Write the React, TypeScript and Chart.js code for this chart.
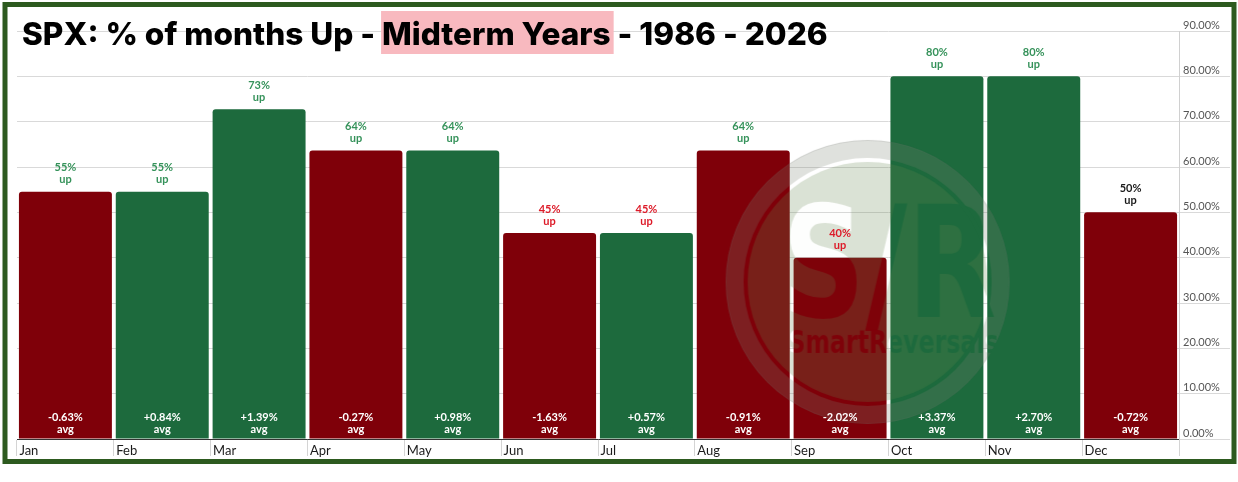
import { useEffect, useRef } from "react";
import { Chart, registerables } from "chart.js";
import type { Plugin } from "chart.js";

Chart.register(...registerables);

// data
const months = ["Jan", "Feb", "Mar", "Apr", "May", "Jun", "Jul", "Aug", "Sep", "Oct", "Nov", "Dec"];
const pctUp = [54.55, 54.55, 72.73, 63.64, 63.64, 45.45, 45.45, 63.64, 40, 80, 80, 50];
const avgReturn = [-0.63, 0.84, 1.39, -0.27, 0.98, -1.63, 0.57, -0.91, -2.02, 3.37, 2.7, -0.72];
const yMin = 0;
const yMax = 90;
const yStep = 10;
const titleParts = ["SPX: % of months Up - ", "Midterm Years", " - 1986 - 2026"];

const RED = "#7f0009";
const GREEN = "#1d6a3d";
const LABEL_FONT = 'Lato, "Open Sans", sans-serif';

function fitText(
  o: CanvasRenderingContext2D,
  text: string,
  left: number,
  top: number,
  width: number,
  height: number
) {
  const m = o.measureText(text);
  const w = m.actualBoundingBoxLeft + m.actualBoundingBoxRight;
  const asc = m.actualBoundingBoxAscent;
  o.save();
  o.translate(left, top);
  o.scale(width / w, height / asc);
  o.fillText(text, m.actualBoundingBoxLeft, asc);
  o.restore();
}

// faint "S/R SmartReversals" stamp over the bars
function drawWatermark(chart: Chart) {
  const { ctx, chartArea } = chart;
  const cx = chartArea.left + (chartArea.right - chartArea.left) * 0.732;
  const cy = chartArea.top + (chartArea.bottom - chartArea.top) * 0.615;
  const r = 142;
  const dpr = chart.currentDevicePixelRatio || 1;
  const size = Math.ceil((r * 2 + 4) * dpr);
  const off = document.createElement("canvas");
  off.width = size;
  off.height = size;
  const o = off.getContext("2d");
  if (!o) return;
  o.scale(dpr, dpr);
  o.translate(r + 2, r + 2);

  // outer ring band
  o.fillStyle = "rgba(120,128,112,0.24)";
  o.beginPath();
  o.arc(0, 0, r, 0, Math.PI * 2);
  o.fill();

  o.globalCompositeOperation = "destination-out";
  o.fillStyle = "#000";
  o.beginPath();
  o.arc(0, 0, r - 18, 0, Math.PI * 2);
  o.fill();

  // inner disc
  o.globalCompositeOperation = "source-over";
  o.fillStyle = "rgba(100,132,80,0.24)";
  o.beginPath();
  o.arc(0, 0, r - 22, 0, Math.PI * 2);
  o.fill();

  o.strokeStyle = "rgba(110,110,110,0.15)";
  o.lineWidth = 1;
  o.beginPath();
  o.arc(0, 0, r - 0.5, 0, Math.PI * 2);
  o.stroke();

  o.globalCompositeOperation = "destination-out";
  o.fillStyle = "rgba(0,0,0,0.95)";
  o.font = 'bold 100px "DejaVu Sans Condensed", "DejaVu Sans", sans-serif';
  fitText(o, "S/R", -78, -82, 205, 117);
  o.font = 'bold 40px "DejaVu Sans Condensed", "DejaVu Sans", sans-serif';
  fitText(o, "SmartReversals", -78, 46, 208, 25);

  ctx.drawImage(off, cx - r - 2, cy - r - 2, size / dpr, size / dpr);
}

const overlayPlugin: Plugin<"bar"> = {
  id: "overlay",
  beforeDraw(chart) {
    const { ctx, width, height } = chart;
    ctx.save();
    ctx.fillStyle = "#ffffff";
    ctx.fillRect(0, 0, width, height);
    ctx.restore();
  },
  afterDatasetsDraw(chart) {
    const ctx = chart.ctx;
    ctx.save();
    drawWatermark(chart);
    const meta = chart.getDatasetMeta(0);
    ctx.textAlign = "center";
    ctx.textBaseline = "middle";
    ctx.font = `bold 11px ${LABEL_FONT}`;
    meta.data.forEach((bar, i) => {
      const { x, y, base } = bar.getProps(["x", "y", "base"], true) as {
        x: number;
        y: number;
        base: number;
      };
      const rounded = Math.round(pctUp[i]);
      ctx.fillStyle = rounded > 50 ? "#35925a" : rounded < 50 ? "#dd1a28" : "#1a1a1a";
      ctx.fillText(`${rounded}%`, x, y - 24);
      ctx.fillText("up", x, y - 12);

      const a = avgReturn[i];
      ctx.fillStyle = "#ffffff";
      ctx.fillText(`${a > 0 ? "+" : ""}${a.toFixed(2)}%`, x, base - 21.5);
      ctx.fillText("avg", x, base - 9.5);
    });
    ctx.restore();
  },
  afterDraw(chart) {
    const ctx = chart.ctx;
    ctx.save();
    const fontFor = (s: number) => `800 ${s}px Inter, "Liberation Sans", sans-serif`;
    const full = titleParts.join("");
    ctx.font = fontFor(32);
    const size = (32 * 806) / ctx.measureText(full).width;
    ctx.font = fontFor(size);
    const x0 = 22;
    const w0 = ctx.measureText(titleParts[0]).width;
    const w1 = ctx.measureText(titleParts[1]).width;
    ctx.fillStyle = "#f8b9bf";
    ctx.fillRect(x0 + w0 - 1, 11, w1 + 4, 43);
    ctx.fillStyle = "#000000";
    ctx.textBaseline = "alphabetic";
    ctx.textAlign = "left";
    ctx.fillText(full, x0, 45);

    ctx.strokeStyle = "#2d5a1f";
    ctx.lineWidth = 5;
    ctx.strokeRect(5, 4.5, 1229, 457);
    ctx.restore();
  },
};

export default function App() {
  const canvasRef = useRef<HTMLCanvasElement>(null);
  const chartInstance = useRef<Chart | null>(null);

  useEffect(() => {
    if (!canvasRef.current) return;
    if (chartInstance.current) chartInstance.current.destroy();
    const ctx = canvasRef.current.getContext("2d");
    if (!ctx) return;

    chartInstance.current = new Chart(ctx, {
      type: "bar",
      data: {
        labels: months,
        datasets: [
          {
            data: pctUp,
            backgroundColor: avgReturn.map((a) => (a >= 0 ? GREEN : RED)),
            borderRadius: 3,
            borderWidth: 0,
            barPercentage: 0.96,
            categoryPercentage: 1,
          },
        ],
      },
      options: {
        responsive: true,
        maintainAspectRatio: false,
        animation: false,
        layout: { padding: { left: 17, top: 31, right: 9, bottom: 13 } },
        scales: {
          x: {
            offset: true,
            afterFit: (s) => {
              s.height = 30;
            },
            grid: {
              display: true,
              offset: true,
              drawOnChartArea: false,
              drawTicks: true,
              tickLength: 17,
              color: "#d4d4d4",
            },
            border: { display: true, color: "#333333", width: 1 },
            ticks: {
              align: "start",
              labelOffset: -46,
              padding: -13,
              autoSkip: false,
              maxRotation: 0,
              color: "#1a1a1a",
              font: { family: LABEL_FONT, size: 13 },
            },
          },
          y: {
            position: "right",
            min: yMin,
            max: yMax,
            afterFit: (s) => {
              s.width = 50;
            },
            grid: {
              color: "#d9d9d9",
              drawTicks: true,
              tickLength: 51,
            },
            border: { display: true, color: "#d0d0d0" },
            ticks: {
              stepSize: yStep,
              padding: -47,
              labelOffset: -6,
              color: "#555555",
              font: { family: LABEL_FONT, size: 11 },
              callback: (v) => `${Number(v).toFixed(2)}%`,
            },
          },
        },
        plugins: {
          legend: { display: false },
          tooltip: { enabled: false },
        },
      },
      plugins: [overlayPlugin],
    });

    return () => {
      if (chartInstance.current) {
        chartInstance.current.destroy();
        chartInstance.current = null;
      }
    };
  }, []);

  return (
    <div style={{ position: "fixed", left: 0, top: 0, width: 1238, height: 482, background: "#fff" }}>
      <canvas ref={canvasRef} />
    </div>
  );
}
